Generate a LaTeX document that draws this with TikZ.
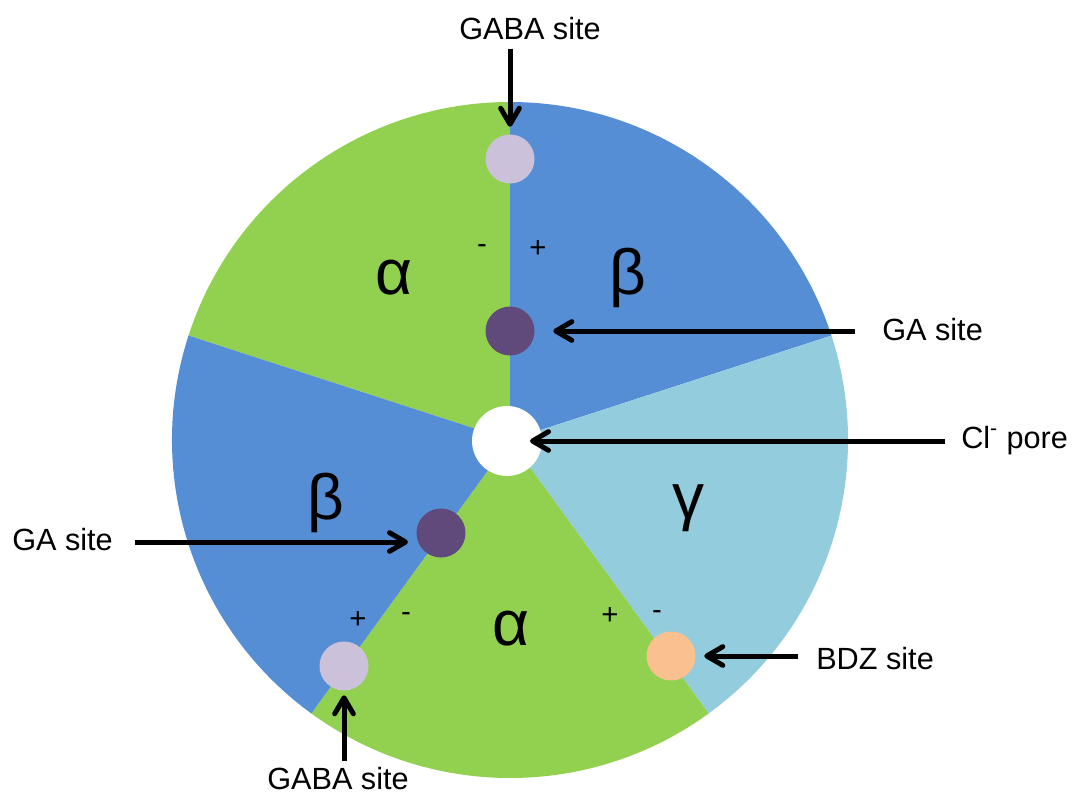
\documentclass[tikz,border=0pt]{standalone}
\usepackage{fontspec}
\setmainfont{Liberation Sans}
\usetikzlibrary{arrows.meta}
\definecolor{cgreen}{HTML}{92D050}
\definecolor{cblue}{HTML}{558ED5}
\definecolor{clblue}{HTML}{93CDDD}
\definecolor{clav}{HTML}{CCC1DA}
\definecolor{cpurp}{HTML}{604A7B}
\definecolor{cpeach}{HTML}{FAC090}
\begin{document}
\begin{tikzpicture}[x=0.75pt,y=0.75pt,
  lab/.style={font=\fontsize{23}{27}\selectfont, inner sep=0pt},
  greek/.style={font=\fontsize{48}{56}\selectfont, inner sep=0pt, anchor=base},
  sign/.style={font=\fontsize{22}{26}\selectfont, inner sep=0pt, anchor=base},
  site/.style={circle, minimum size=36.75pt, inner sep=0pt},
  arr/.style={line width=3.75pt, -{Straight Barb[length=12pt,width=14pt,round]}},
]
\useasboundingbox (0,0) rectangle (1074,794);
\coordinate (C) at (510,354);
% sectors
\fill[cgreen] (C) -- ++(90:338) arc[start angle=90,end angle=162,radius=338] -- cycle;
\fill[cblue]  (C) -- ++(18:338) arc[start angle=18,end angle=90,radius=338] -- cycle;
\fill[clblue] (C) -- ++(-54:338) arc[start angle=-54,end angle=18,radius=338] -- cycle;
\fill[cgreen] (C) -- ++(-126:338) arc[start angle=-126,end angle=-54,radius=338] -- cycle;
\fill[cblue]  (C) -- ++(162:338) arc[start angle=162,end angle=234,radius=338] -- cycle;
% pore
\node[circle, fill=white, minimum size=52.5pt, inner sep=0pt] (pore) at (507,353) {};
% site dots
\node[site, fill=clav]   (dGABAt) at (510,635) {};
\node[site, fill=cpurp]  (dGAt)   at (510,463) {};
\node[site, fill=cpurp]  (dGAl)   at (441,261) {};
\node[site, fill=clav]   (dGABAb) at (344,128) {};
\node[site, fill=cpeach] (dBDZ)   at (671,138) {};
% greek letters
\node[greek] (a1) at (394,499) {α};
\node[greek] (b1) at (628,499) {β};
\node[greek] (b2) at (326,275) {β};
\node[greek] (g1) at (688,276) {γ};
\node[greek] (a2) at (511,149) {α};
% signs
\node[sign] (m1) at (482,541) {-};
\node[sign] (p1) at (538,537) {+};
\node[sign] (p2) at (358,166) {+};
\node[sign] (m2) at (406,173) {-};
\node[sign] (p3) at (610,170) {+};
\node[sign] (m3) at (657,175) {-};
% labels
\node[lab, anchor=base] (tGABAt) at (530,754) {GABA site};
\node[lab, anchor=base west] (tGAr) at (882,454) {GA site};
\node[lab, anchor=base west] (tCl) at (961,346) {Cl\textsuperscript{-} pore};
\node[lab, anchor=base west] (tGAl) at (12,244) {GA site};
\node[lab, anchor=base west] (tBDZ) at (816,125) {BDZ site};
\node[lab, anchor=base] (tGABAb) at (338,5) {GABA site};
\coordinate (tipGAl) at (408,252);
% arrows
\draw[arr, shorten <=6pt, shorten >=5.6pt] (tGABAt.south -| dGABAt) -- (dGABAt);
\draw[arr, shorten <=20pt, shorten >=13.9pt] (tGAr.west |- dGAt) -- (dGAt);
\draw[arr, shorten <=12pt, shorten >=17.25pt] (tCl.west |- pore) -- (pore.center);
\draw[arr, shorten <=16.5pt] (tGAl.east |- tipGAl) -- (tipGAl);
\draw[arr, shorten <=13.5pt, shorten >=6.4pt] (tBDZ.west |- dBDZ) -- (dBDZ);
\draw[arr, shorten <=4pt, shorten >=3.4pt] (tGABAb.north -| dGABAb) -- (dGABAb);
\end{tikzpicture}
\end{document}
